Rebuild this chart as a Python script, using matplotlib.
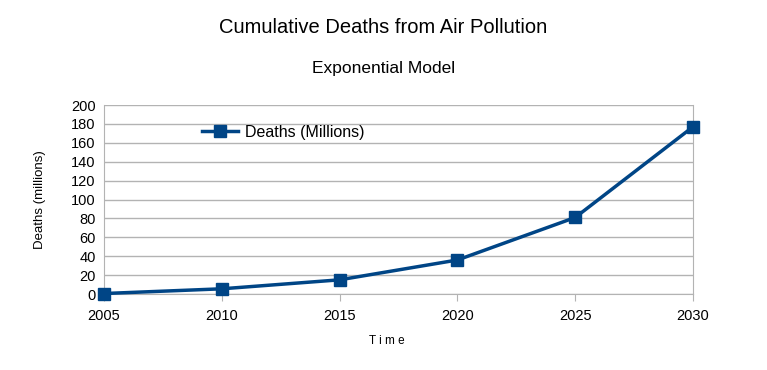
import matplotlib
matplotlib.use("Agg")
from matplotlib import pyplot as plt

years = [2005, 2010, 2015, 2020, 2025, 2030]
deaths = [0.5, 5.5, 15, 36, 81, 177]
yticks = list(range(0, 201, 20))

plt.rcParams['font.family'] = 'sans-serif'
plt.rcParams['font.sans-serif'] = ['Liberation Sans']

fig = plt.figure(figsize=(7.67, 3.70), dpi=100)
ax = fig.add_axes([0.1356, 0.2054, 0.7679, 0.5106])

ax.plot(years, deaths, "-s", color="#004586", lw=2.5, ms=9,
        label="Deaths (Millions)", clip_on=False, zorder=5)
ax.set_xlim(2005, 2030)
ax.set_ylim(0, 200)
ax.set_xticks(years)
ax.set_yticks(yticks)
ax.yaxis.grid(True, color="#b3b3b3", lw=1)
ax.set_axisbelow(True)
ax.spines["top"].set_visible(False)
for s in ["left", "right", "bottom"]:
    ax.spines[s].set_color("#b3b3b3")
ax.tick_params(axis="y", length=0, labelsize=10.5, pad=6)
ax.tick_params(axis="x", length=5, color="#b3b3b3", labelsize=10.5, pad=6)
ax.set_xlabel("T i m e", fontsize=8.5)
ax.xaxis.set_label_coords(0.48, -0.215)
ax.set_ylabel("Deaths (millions)", fontsize=9.5, labelpad=18)

fig.text(0.5, 0.925, "Cumulative Deaths from Air Pollution", ha="center",
         va="center", fontsize=14.5)
fig.text(0.5, 0.816, "Exponential Model", ha="center", va="center",
         fontsize=12.5)
ax.legend(loc="upper left", bbox_to_anchor=(0.155, 0.93), frameon=False,
          fontsize=11.5, handlelength=2.3, borderaxespad=0, handletextpad=0.4)

fig.savefig("out.png", dpi=100)
